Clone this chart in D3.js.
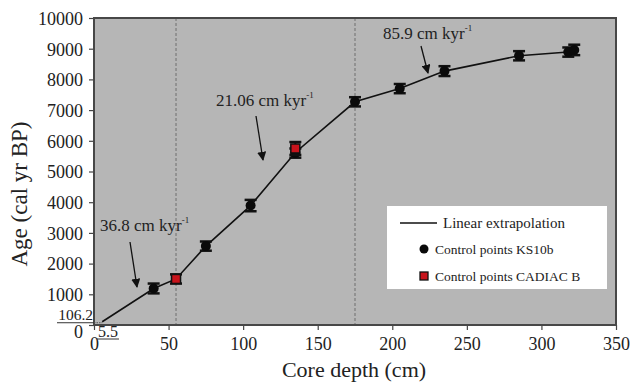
<!DOCTYPE html>
<html><head><meta charset="utf-8">
<script src="https://cdn.jsdelivr.net/npm/d3@7"></script>
<style>body{margin:0;background:#fff}svg{display:block}</style>
</head><body>
<svg id="c" width="633" height="382"></svg>
<script>
// data
const lineDepth = [5.5, 40, 55, 75, 105, 135, 175, 205, 235, 285, 318];
const lineAge   = [106.2, 1190, 1500, 2570, 3890, 5620, 7270, 7700, 8270, 8770, 8890];
const ksDepth = [40, 75, 105, 135, 175, 205, 235, 285, 318, 322];
const ksAge   = [1190, 2570, 3890, 5600, 7270, 7700, 8270, 8770, 8890, 8960];
const ksErr   = [160, 150, 185, 150, 150, 150, 160, 150, 150, 170];
const cadDepth = [55, 135];
const cadAge   = [1500, 5750];
const cadErr   = [150, 210];
const dividers = [55, 175];
const xTicks = [0, 50, 100, 150, 200, 250, 300, 350];
const yTicks = [0,1000,2000,3000,4000,5000,6000,7000,8000,9000,10000];
const rates = [
  {label:"36.8 cm kyr", lx:100, ly:231, from:[130,242], to:[137,287]},
  {label:"21.06 cm kyr", lx:216, ly:106, from:[256,116], to:[263,160]},
  {label:"85.9 cm kyr", lx:383, ly:39, from:[421,46], to:[428,73]}
];

const svg = d3.select("#c");
const L=94, T=18, R=616, B=325;
const x = d3.scaleLinear().domain([0,350]).range([L,R]);
const y = d3.scaleLinear().domain([0,10000]).range([B,T]);
const serif = "'Liberation Serif','Times New Roman',serif";

svg.append("rect").attr("x",L).attr("y",T).attr("width",R-L).attr("height",B-T)
  .attr("fill","#b6b6b6");

// dividers
svg.selectAll(".div").data(dividers).enter().append("line")
  .attr("x1",d=>x(d)).attr("x2",d=>x(d)).attr("y1",T).attr("y2",B)
  .attr("stroke","#6e6e6e").attr("stroke-width",1).attr("stroke-dasharray","3,2");

// axes
const xa = svg.append("g").attr("transform",`translate(0,${B})`)
  .call(d3.axisBottom(x).tickValues(xTicks).tickFormat(d3.format("d")).tickSize(5).tickSizeOuter(0).tickPadding(6));
const ya = svg.append("g").attr("transform",`translate(${L},0)`)
  .call(d3.axisLeft(y).tickValues(yTicks).tickFormat(d3.format("d")).tickSize(5).tickSizeOuter(0).tickPadding(6));
[xa,ya].forEach(g=>{
  g.select(".domain").remove();
  g.selectAll("line").attr("stroke","#444").attr("stroke-width",1.2);
  g.selectAll("text").attr("font-family",serif).attr("font-size",18).attr("fill","#222");
});
xa.selectAll("text").attr("dy","0.75em");
ya.selectAll("text").attr("dy","0.35em");
ya.selectAll("text").filter(d=>d===0).attr("dy","0.72em");

// frame
svg.append("rect").attr("x",L).attr("y",T).attr("width",R-L).attr("height",B-T)
  .attr("fill","none").attr("stroke","#474747").attr("stroke-width",2);

// 106.2 / 5.5 guides
svg.append("line").attr("x1",57).attr("x2",L).attr("y1",y(lineAge[0])+1).attr("y2",y(lineAge[0])+1)
  .attr("stroke","#333").attr("stroke-width",1);
svg.append("line").attr("x1",L).attr("x2",x(lineDepth[0])).attr("y1",y(lineAge[0])+1).attr("y2",y(lineAge[0])+1)
  .attr("stroke","#555").attr("stroke-width",1).attr("stroke-dasharray","1.5,1");
svg.append("text").attr("x",93).attr("y",y(lineAge[0])-1.5).attr("text-anchor","end")
  .attr("font-family",serif).attr("font-size",15.5).attr("fill","#222").text(lineAge[0].toFixed(1));
svg.append("text").attr("x",98).attr("y",337)
  .attr("font-family",serif).attr("font-size",16).attr("fill","#222").text(String(lineDepth[0]));
svg.append("line").attr("x1",97).attr("x2",119).attr("y1",339).attr("y2",339)
  .attr("stroke","#333").attr("stroke-width",1);

// line
svg.append("path").datum(lineDepth.map((d,i)=>[d,lineAge[i]]))
  .attr("d",d3.line().x(d=>x(d[0])).y(d=>y(d[1])))
  .attr("fill","none").attr("stroke","#111").attr("stroke-width",1.6);

function errBars(dep,age,err){
  const g = svg.append("g");
  dep.forEach((d,i)=>{
    const cx=x(d), y1=y(age[i]+err[i]), y2=y(age[i]-err[i]);
    g.append("line").attr("x1",cx).attr("x2",cx).attr("y1",y1).attr("y2",y2).attr("stroke","#111").attr("stroke-width",2);
    [y1,y2].forEach(v=>g.append("line").attr("x1",cx-6).attr("x2",cx+6).attr("y1",v).attr("y2",v)
      .attr("stroke","#111").attr("stroke-width",2.5));
  });
}
errBars(ksDepth,ksAge,ksErr);
svg.append("g").selectAll("circle").data(ksDepth).enter().append("circle")
  .attr("cx",d=>x(d)).attr("cy",(d,i)=>y(ksAge[i])).attr("r",5).attr("fill","#0a0a0a");
errBars(cadDepth,cadAge,cadErr);
svg.append("g").selectAll("rect").data(cadDepth).enter().append("rect")
  .attr("x",d=>x(d)-4.5).attr("y",(d,i)=>y(cadAge[i])-4.5).attr("width",9).attr("height",9)
  .attr("fill","#c8141c").attr("stroke","#111").attr("stroke-width",1.5);

// rate annotations
const defs = svg.append("defs");
defs.append("marker").attr("id","ah").attr("viewBox","0 0 10 10").attr("refX",9).attr("refY",5)
  .attr("markerWidth",7).attr("markerHeight",7).attr("orient","auto")
  .append("path").attr("d","M0,0 L10,5 L0,10 Z").attr("fill","#111");
rates.forEach(r=>{
  const t = svg.append("text").attr("x",r.lx).attr("y",r.ly).attr("font-family",serif)
    .attr("font-size",17).attr("fill","#222");
  t.append("tspan").text(r.label);
  t.append("tspan").attr("font-size",9).attr("dy",-8).text("-1");
  svg.append("line").attr("x1",r.from[0]).attr("y1",r.from[1]).attr("x2",r.to[0]).attr("y2",r.to[1])
    .attr("stroke","#111").attr("stroke-width",1.3).attr("marker-end","url(#ah)");
});

// legend
const lg = svg.append("g");
lg.append("rect").attr("x",387).attr("y",206).attr("width",220).attr("height",83).attr("fill","#fff");
lg.append("line").attr("x1",400).attr("x2",437).attr("y1",223).attr("y2",223).attr("stroke","#111").attr("stroke-width",1.3);
lg.append("text").attr("x",443).attr("y",228).attr("font-family",serif).attr("font-size",15).attr("fill","#222").text("Linear extrapolation");
lg.append("circle").attr("cx",424).attr("cy",249).attr("r",4.5).attr("fill","#0a0a0a");
lg.append("text").attr("x",435).attr("y",254).attr("font-family",serif).attr("font-size",13.5).attr("fill","#222").text("Control points KS10b");
lg.append("rect").attr("x",420).attr("y",272).attr("width",8).attr("height",8).attr("fill","#c8141c").attr("stroke","#111").attr("stroke-width",1.3);
lg.append("text").attr("x",435).attr("y",281).attr("font-family",serif).attr("font-size",13.5).attr("fill","#222").text("Control points CADIAC B");

// axis titles
svg.append("text").attr("x",354).attr("y",377).attr("text-anchor","middle")
  .attr("font-family",serif).attr("font-size",22).attr("fill","#222").text("Core depth (cm)");
svg.append("text").attr("transform","translate(27,194) rotate(-90)").attr("text-anchor","middle")
  .attr("font-family",serif).attr("font-size",23).attr("fill","#222").text("Age (cal yr BP)");
</script>
</body></html>
